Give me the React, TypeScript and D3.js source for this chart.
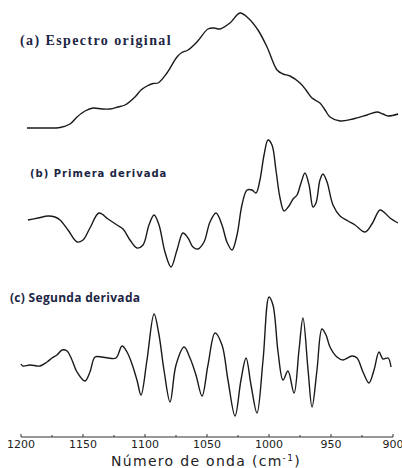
import React from "react";
import * as d3 from "d3";

// Wavenumbers (cm-1) and intensities
const waveA = [1195.2,1180.6,1168.5,1160.5,1154.8,1148.4,1141.9,1134.7,1128.2,1121.8,1116.1,1108.1,1103.2,1098.4,1093.5,1089.5,1082.3,1074.2,1070.2,1065.3,1058.1,1049.2,1044.4,1039.5,1031.5,1023.4,1016.9,1008.9,1001.6,993.5,988.7,983.1,975.0,970.2,965.3,958.9,954.8,950.8,942.7,932.3,921.0,912.9,908.1,904.0,895.9];
const absA = [0.00,0.00,0.005,0.04,0.11,0.17,0.20,0.19,0.19,0.21,0.23,0.31,0.38,0.42,0.445,0.45,0.55,0.71,0.755,0.78,0.86,0.99,1.00,0.99,1.05,1.15,1.10,0.98,0.81,0.58,0.54,0.52,0.45,0.38,0.30,0.25,0.18,0.11,0.07,0.09,0.13,0.16,0.14,0.12,0.14];

const waveB = [1194.4,1186.3,1178.2,1172.6,1168.5,1162.1,1154.8,1150.0,1144.4,1137.1,1129.8,1122.6,1117.7,1112.1,1106.5,1101.6,1096.8,1092.7,1088.7,1083.9,1079.0,1074.2,1069.4,1065.3,1061.3,1057.3,1052.4,1047.6,1042.7,1037.9,1033.9,1029.8,1025.8,1021.8,1017.7,1013.7,1010.5,1007.3,1004.0,1000.8,997.6,994.4,991.1,987.9,983.9,980.6,977.4,974.2,971.0,967.7,964.5,962.1,958.9,956.5,953.2,948.4,942.7,936.3,930.6,922.6,917.0,910.5,906.5,902.4,896.0];
const derivB = [0.00,0.02,0.04,0.03,0.00,-0.10,-0.22,-0.20,-0.08,0.07,0.01,-0.05,-0.09,-0.20,-0.28,-0.25,-0.05,0.05,-0.05,-0.32,-0.47,-0.30,-0.13,-0.18,-0.27,-0.29,-0.22,-0.02,0.07,-0.05,-0.22,-0.30,-0.15,0.15,0.30,0.30,0.27,0.40,0.65,0.80,0.75,0.50,0.22,0.09,0.14,0.21,0.25,0.37,0.47,0.35,0.13,0.17,0.40,0.46,0.38,0.15,0.04,-0.01,-0.05,-0.12,-0.04,0.10,0.07,0.02,-0.03];

const waveC = [1200.0,1198.4,1192.7,1184.7,1179.0,1175.0,1171.0,1166.9,1162.9,1158.9,1154.8,1148.4,1144.4,1140.3,1134.7,1129.8,1123.4,1118.5,1114.5,1110.5,1106.5,1103.2,1098.4,1092.7,1088.7,1084.7,1079.8,1075.0,1068.5,1063.7,1058.9,1054.0,1049.2,1043.5,1037.9,1033.1,1027.4,1022.6,1018.5,1014.5,1009.7,1004.8,1000.0,996.8,992.7,988.7,984.7,979.8,975.8,972.6,968.5,965.3,961.3,957.3,954.0,950.8,945.2,940.3,933.1,929.0,924.2,919.4,915.3,911.3,908.1,904.0,901.6];
const derivC = [-0.04,-0.06,-0.05,-0.06,-0.02,0.02,0.05,0.10,0.09,0.00,-0.12,-0.21,-0.12,0.03,0.03,0.02,0.02,0.14,0.08,-0.04,-0.20,-0.35,0.00,0.46,0.25,-0.10,-0.42,-0.05,0.13,0.02,-0.15,-0.36,-0.05,0.27,0.15,-0.20,-0.56,-0.20,0.02,-0.25,-0.53,0.00,0.63,0.55,0.08,-0.20,-0.11,-0.33,0.10,0.42,-0.10,-0.47,-0.10,0.31,0.25,0.13,0.03,0.00,0.04,0.02,-0.12,-0.23,-0.10,0.08,0.01,0.02,-0.07];

const majorTicks = [1200, 1150, 1100, 1050, 1000, 950, 900];
const minorTicks = [1175, 1125, 1075, 1025, 975, 925];

const labelA = "(a) Espectro original";
const labelB = "(b) Primera derivada";
const labelC = "(c) Segunda derivada";
const axisTitle = "Número de onda (cm";

export default function App() {
  const W = 402, H = 468;
  const x = d3.scaleLinear().domain([1200, 900]).range([21, 393]);
  const yA = d3.scaleLinear().domain([0, 1]).range([128, 28]);
  const yB = d3.scaleLinear().domain([0, 1]).range([220, 120]);
  const yC = d3.scaleLinear().domain([0, 1]).range([360, 260]);

  const mk = (ws: number[], vs: number[], ys: d3.ScaleLinear<number, number>) =>
    d3.line<number>()
      .x((_, i) => x(ws[i]))
      .y((v) => ys(v))
      .curve(d3.curveCatmullRom.alpha(0.5))(vs) || "";

  const axisY = 437;
  const labelColor = "#1c2544";

  return (
    <svg width={W} height={H} style={{ position: "absolute", left: 0, top: 0, background: "#fff" }}>
      <path d={mk(waveA, absA, yA)} fill="none" stroke="#1a1a1a" strokeWidth={1.4} />
      <path d={mk(waveB, derivB, yB)} fill="none" stroke="#1a1a1a" strokeWidth={1.4} />
      <path d={mk(waveC, derivC, yC)} fill="none" stroke="#1a1a1a" strokeWidth={1.4} />

      <text x={20} y={45} fontFamily="Liberation Serif" fontWeight="bold" fontSize={14} letterSpacing={1.4} fill={labelColor}>{labelA}</text>
      <text x={30} y={177} fontFamily="DejaVu Sans" fontWeight="bold" fontSize={10} letterSpacing={1} fill={labelColor}>{labelB}</text>
      <text x={10} y={302} fontFamily="Open Sans" fontWeight="bold" fontSize={12} letterSpacing={0.3} fill={labelColor}>{labelC}</text>

      <line x1={x(1200)} x2={x(900)} y1={axisY} y2={axisY} stroke="#333" strokeWidth={1} />
      {majorTicks.map((t) => (
        <g key={t}>
          <line x1={x(t)} x2={x(t)} y1={axisY} y2={axisY - 3} stroke="#333" strokeWidth={1} />
          <text x={x(t)} y={448} textAnchor="middle" fontFamily="DejaVu Sans" fontSize={11} fill="#222">{t}</text>
        </g>
      ))}
      {minorTicks.map((t) => (
        <line key={t} x1={x(t)} x2={x(t)} y1={axisY} y2={axisY - 2} stroke="#333" strokeWidth={1} />
      ))}
      <text x={206} y={466} textAnchor="middle" fontFamily="DejaVu Sans" fontSize={14} letterSpacing={1.3} fill="#222">
        {axisTitle}<tspan dy={-5} fontSize={9}>-1</tspan><tspan dy={5}>)</tspan>
      </text>
    </svg>
  );
}
